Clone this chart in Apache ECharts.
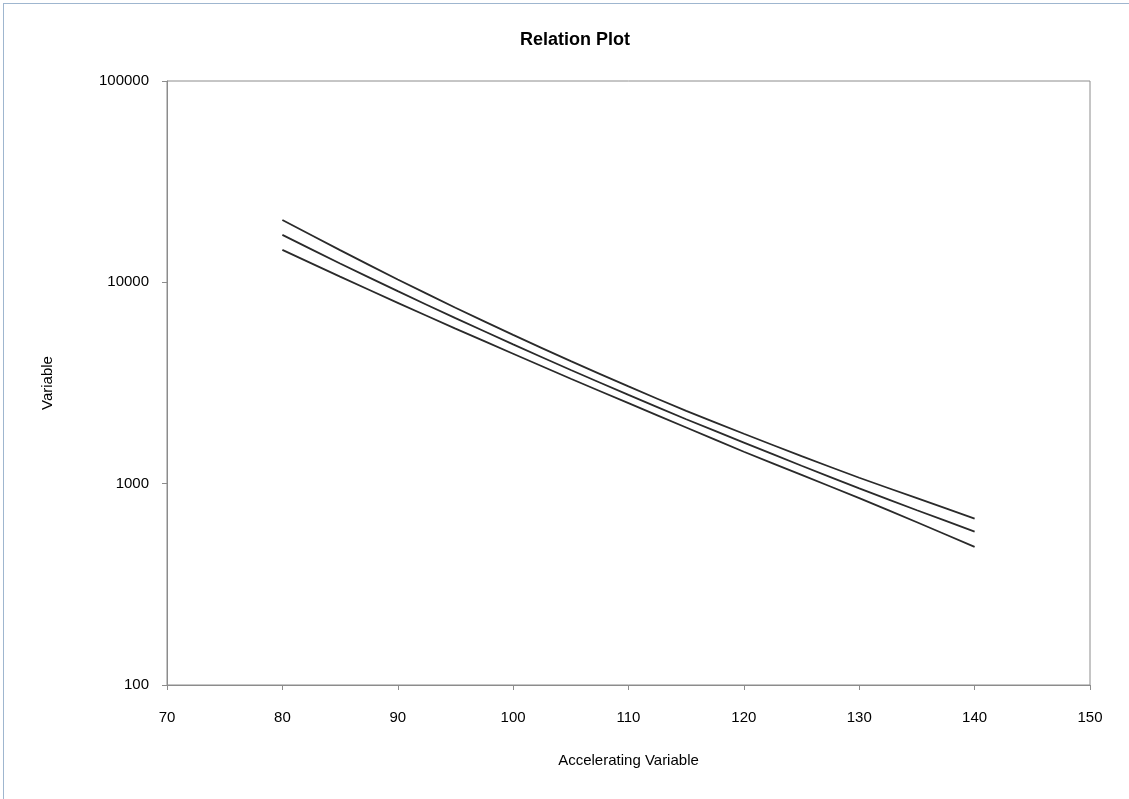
<!DOCTYPE html>
<html>
<head>
<meta charset="utf-8">
<title>Relation Plot</title>
<script src="https://cdn.jsdelivr.net/npm/echarts@6/dist/echarts.min.js"></script>
<style>
    html, body {margin: 0; padding: 0; background: #ffffff;}
    #frame {position: absolute; left: 3px; top: 3px; width: 1140px; height: 810px; border: 1px solid #9fb6cf; box-sizing: border-box;}
    #relationChart {position: absolute; left: 0; top: 0; width: 1129px; height: 799px;}
</style>
</head>
<body>
<div id="frame"></div>
<div id="relationChart"></div>
<script>
// accelerating variable values (x)
var stressLevels = [80, 85, 90, 95, 100, 105, 110, 115, 120, 125, 130, 135, 140];

var upperBound = [20400, 14450, 10330, 7480, 5480, 4060, 3040, 2300, 1770, 1370, 1070, 847, 670];
var relationLine = [17200, 12400, 9040, 6640, 4920, 3670, 2760, 2090, 1600, 1227, 948, 738, 578];
var lowerBound = [14500, 10670, 7910, 5890, 4420, 3320, 2510, 1900, 1440, 1105, 848, 643, 485];

var xTicks = [70, 80, 90, 100, 110, 120, 130, 140, 150];
var yTicks = [100, 1000, 10000, 100000];

function pairs(values) {
    return stressLevels.map(function (s, i) { return [s, values[i]]; });
}

var myChart = echarts.init(document.getElementById('relationChart'));

var lineStyle = {color: '#2a2a2a', width: 1.8};

var option = {
    backgroundColor: 'transparent',
    animation: false,
    title: {
        text: 'Relation Plot',
        left: 570,
        top: 26,
        textAlign: 'center',
        textStyle: {fontFamily: 'Liberation Sans', fontSize: 18, fontWeight: 'bold', color: '#000'}
    },
    grid: {
        left: 167,
        right: 39,
        top: 81,
        bottom: 114,
        show: true,
        borderColor: '#8c8c8c',
        borderWidth: 1
    },
    xAxis: {
        type: 'value',
        min: xTicks[0],
        max: xTicks[xTicks.length - 1],
        interval: 10,
        name: 'Accelerating Variable',
        nameLocation: 'middle',
        nameGap: 68,
        nameTextStyle: {fontFamily: 'Liberation Sans', fontSize: 15, color: '#000'},
        axisLine: {lineStyle: {color: '#8c8c8c', width: 1}},
        axisTick: {show: true, inside: false, length: 5, lineStyle: {color: '#8c8c8c'}},
        axisLabel: {fontFamily: 'Liberation Sans', fontSize: 15, color: '#000', margin: 25},
        splitLine: {show: false}
    },
    yAxis: {
        type: 'log',
        logBase: 10,
        min: yTicks[0],
        max: yTicks[yTicks.length - 1],
        name: 'Variable',
        nameLocation: 'middle',
        nameGap: 112,
        nameRotate: 90,
        nameTextStyle: {fontFamily: 'Liberation Sans', fontSize: 15, color: '#000'},
        axisLine: {show: true, lineStyle: {color: '#8c8c8c', width: 1}},
        axisTick: {show: true, inside: false, length: 5, lineStyle: {color: '#8c8c8c'}},
        axisLabel: {
            fontFamily: 'Liberation Sans', fontSize: 15, color: '#000', margin: 18,
            formatter: function (v) { return String(Math.round(v)); }
        },
        splitLine: {show: false}
    },
    series: [
        {name: 'Upper', type: 'line', data: pairs(upperBound), smooth: 0.2, showSymbol: false, lineStyle: lineStyle},
        {name: 'Relation', type: 'line', data: pairs(relationLine), smooth: 0.2, showSymbol: false, lineStyle: lineStyle},
        {name: 'Lower', type: 'line', data: pairs(lowerBound), smooth: 0.2, showSymbol: false, lineStyle: lineStyle}
    ]
};

myChart.setOption(option, true);
</script>
</body>
</html>
